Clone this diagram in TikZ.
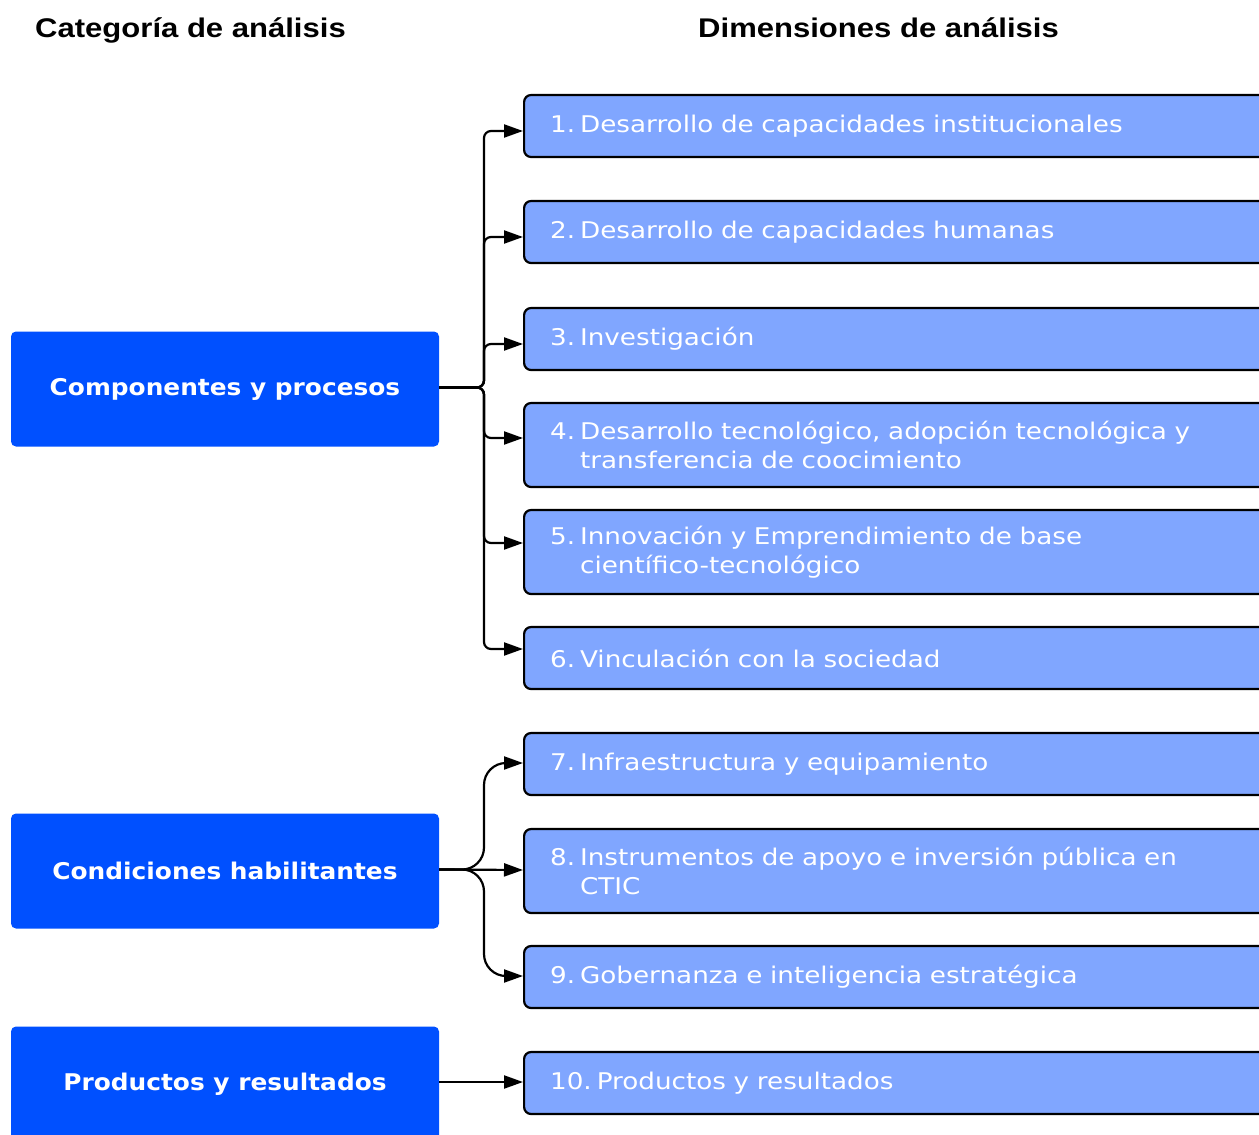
\documentclass[tikz,border=0pt]{standalone}
\usepackage{fontspec}
\setmainfont{DejaVu Sans}
\newfontfamily\headfont[FakeStretch=1.15]{Liberation Sans}
\newfontfamily\dimfont[FakeStretch=1.14]{DejaVu Sans}
\newfontfamily\catfont[FakeStretch=1.08]{DejaVu Sans}
\usetikzlibrary{arrows.meta}
\definecolor{catblue}{HTML}{0050FF}
\definecolor{dimblue}{HTML}{80A6FF}
% gap between an item number and its text
\newcommand\numgap{\hspace{5pt}}
\tikzset{
  heading/.style={font=\headfont\bfseries\fontsize{27}{32}\selectfont, text=black, inner sep=0pt, anchor=base west},
  catbox/.style={fill=catblue, rounded corners=5pt, minimum width=428pt, minimum height=115pt,
    inner sep=0pt, text=white, font=\catfont\bfseries\fontsize{23}{28}\selectfont},
  dimbox/.style={draw=black, line width=2.2pt, fill=dimblue, rounded corners=7pt,
    minimum width=780pt, minimum height=62pt, anchor=west, inner xsep=26pt, inner ysep=0pt,
    text width=728pt, align=left, text=white, font=\dimfont\fontsize{23}{29}\selectfont},
  link/.style={line width=2.2pt, draw=black, -{Triangle[length=19pt,width=13pt]}},
}
\begin{document}
\begin{tikzpicture}[x=1pt,y=-1pt]
\clip (0,0) rectangle (1259,1135);
\fill[white] (0,0) rectangle (1259,1135);

% column headings
\node[heading] (h1) at (35,37) {Categoría de análisis};
\node[heading] (h2) at (698,37) {Dimensiones de análisis};

% categories
\node[catbox] (c1) at (225,389) {Componentes y procesos};
\node[catbox] (c2) at (225,871) {Condiciones habilitantes};
\node[catbox] (c3) at (225,1084) {Productos y resultados};

% dimensions
\node[dimbox] (d1) at (523,126) {1.\numgap Desarrollo de capacidades institucionales};
\node[dimbox] (d2) at (523,232) {2.\numgap Desarrollo de capacidades humanas};
\node[dimbox] (d3) at (523,339) {3.\numgap Investigación};
\node[dimbox, minimum height=84pt] (d4) at (523,445) {4.\numgap Desarrollo tecnológico, adopción tecnológica y\\\phantom{4.\numgap}transferencia de coocimiento};
\node[dimbox, minimum height=84pt] (d5) at (523,552) {5.\numgap Innovación y Emprendimiento de base\\\phantom{5.\numgap}científico-tecnológico};
\node[dimbox] (d6) at (523,658) {6.\numgap Vinculación con la sociedad};
\node[dimbox] (d7) at (523,764) {7.\numgap Infraestructura y equipamiento};
\node[dimbox, minimum height=84pt] (d8) at (523,871) {8.\numgap Instrumentos de apoyo e inversión pública en\\\phantom{8.\numgap}CTIC};
\node[dimbox] (d9) at (523,977) {9.\numgap Gobernanza e inteligencia estratégica};
\node[dimbox] (d10) at (523,1083) {10.\numgap Productos y resultados};

% arrow end points on the dimension boxes
\coordinate (a1) at ([yshift=-5pt]d1.west);
\coordinate (a2) at ([yshift=-5pt]d2.west);
\coordinate (a3) at ([yshift=-5pt]d3.west);
\coordinate (a4) at ([yshift=7pt]d4.west);
\coordinate (a5) at ([yshift=9pt]d5.west);
\coordinate (a6) at ([yshift=9pt]d6.west);
\coordinate (a7) at ([yshift=1pt]d7.west);
\coordinate (a8) at ([yshift=1pt]d8.west);
\coordinate (a9) at ([yshift=1pt]d9.west);
\coordinate (a10) at ([yshift=1pt]d10.west);
\coordinate (t) at (484,0);

% fan-out from "Componentes y procesos"
\foreach \k in {1,...,6}{
  \draw[link, rounded corners=7pt] ([yshift=1.5pt]c1.east) -| (t |- a\k) -- (a\k);
}
% fan-out from "Condiciones habilitantes"
\draw[link, rounded corners=22pt] ([yshift=1.5pt]c2.east) -| (t |- a7) -- (a7);
\draw[link] ([yshift=1.5pt]c2.east) -- (a8);
\draw[link, rounded corners=22pt] ([yshift=1.5pt]c2.east) -| (t |- a9) -- (a9);
% single link
\draw[link] ([yshift=2pt]c3.east) -- (a10);
\end{tikzpicture}
\end{document}
